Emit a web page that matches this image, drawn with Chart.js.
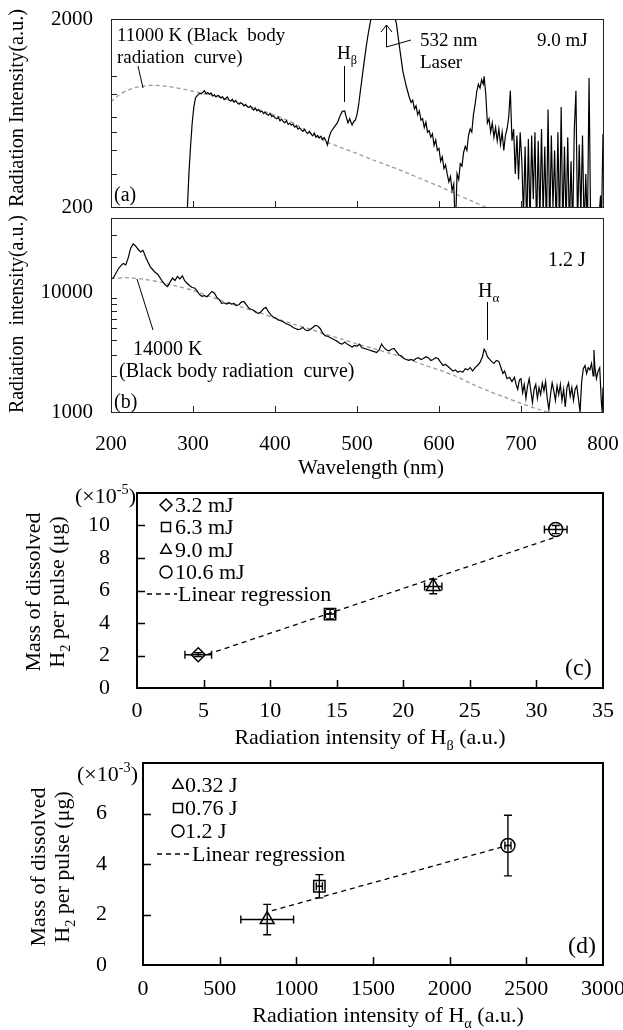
<!DOCTYPE html>
<html>
<head>
<meta charset="utf-8">
<script src="https://cdn.jsdelivr.net/npm/chart.js@4.4.1/dist/chart.umd.min.js"></script>
<style>
html,body{margin:0;padding:0;background:#fff;}
#wrap{position:relative;width:623px;height:1030px;overflow:hidden;background:#fff;}
#wrap canvas{position:absolute;left:0;}
</style>
</head>
<body>
<div id="wrap">
<canvas id="cA" width="623" height="214" style="top:0px;width:623px;height:214px"></canvas>
<canvas id="cB" width="623" height="266" style="top:214px;width:623px;height:266px"></canvas>
<canvas id="cC" width="623" height="270" style="top:480px;width:623px;height:270px"></canvas>
<canvas id="cD" width="623" height="280" style="top:750px;width:623px;height:280px"></canvas>
</div>
<script>
const SERIF = "'Liberation Serif','Times New Roman',serif";

// ---------------- Panel (a): 9.0 mJ spectrum ----------------
const aWave = [290,293,295,297,299,301,303,306,308,310,312,314,316,318,320,322,324,326,328,330,332,334,336,338,340,342,344,346,348,350,352,354,356,358,360,362,364,366,368,370,372,374,376,378,380,382,384,386,388,390,392,394,396,398,400,402,404,406,408,410,412,414,416,418,420,422,424,426,428,430,432,434,436,438,440,442,444,446,448,450,452,454,456,458,460,462,464,466,468,470,472,474,476,478,480,482,485,487,489,491,494,496,498,500,502,504,506,508,510,512,514,516,518,520,530,540,545,548,552,556,560,564,566,568,570,572,574,576,578,580,582,584,586,588,590,592,594,596,598,600,602,604,606,608,610,612,614,616,618,620,622,624,626,628,630,632,634,636,638,640,642,644,646,648,650,652,654,655,657,659,661,663,665,667,669,671,673,675,677,679,681,683,685,687,689,691,693,695,697,699,701,703,705,707,709,711,713,715,717,719,721,723,725,727,729,731,733,735,737,739,741,743,745,747,749,751,753,755,757,759,761,763,765,767,769,771,773,775,777,779,781,783,785,787,790,793,794,795,797,798,800];
const aInt = [100,190,300,420,560,680,760,790,805,800,815,830,800,812,795,808,780,790,770,785,778,760,772,745,758,770,740,732,748,722,738,716,705,718,710,690,702,684,676,690,668,655,672,650,660,640,648,628,638,622,615,630,605,612,596,590,600,575,586,570,562,575,550,558,545,552,532,540,520,528,515,505,518,500,492,505,488,478,494,470,480,466,476,458,468,450,427,470,500,515,530,545,560,590,620,645,648,600,560,590,546,570,580,620,700,820,960,1120,1300,1500,1700,1900,2100,2500,3200,3000,2100,1900,1400,1050,880,760,720,740,665,690,620,650,580,590,530,565,500,510,470,490,425,455,400,410,350,370,320,335,300,272,290,245,265,150,300,280,340,330,390,420,400,480,520,500,620,700,820,900,860,950,900,990,800,560,590,500,560,470,530,450,520,430,500,400,480,520,600,830,450,520,300,480,280,500,350,180,420,150,460,160,480,220,500,150,450,170,520,180,420,150,660,150,480,200,400,150,500,150,680,150,420,160,470,150,350,150,520,830,150,430,180,480,150,300,150,970,150,150,150,150,150,150,230,150,490,150,150];
const aBBWave = [200,210,220,230,240,250,260,270,280,290,300,320,340,360,380,400,420,440,460,480,500,520,540,560,580,600,620,640,660,680];
const aBBInt = [725,790,835,865,880,888,885,875,860,845,825,790,750,705,660,615,565,505,450,415,385,355,330,305,280,258,235,215,197,180];
const aYTicks = [200, 2000];
const aYMinor = [300, 400, 500, 600, 800, 1000];

// ---------------- Panel (b): 1.2 J spectrum ----------------
const bWave = [200,203,206,209,212,215,218,221,224,227,230,233,236,239,242,245,248,251,254,257,260,263,266,269,272,275,278,281,284,287,290,293,296,299,302,305,308,311,314,317,320,323,326,329,332,335,338,341,344,347,350,353,356,359,362,365,368,371,374,377,380,383,386,389,392,395,398,401,404,407,410,413,416,419,422,425,428,431,434,437,440,443,446,449,452,455,458,461,464,467,470,473,476,479,482,485,488,491,494,497,500,503,506,509,512,515,518,521,524,527,530,533,536,539,542,545,548,551,554,557,560,563,566,569,572,575,578,581,584,587,590,593,596,599,602,605,608,611,614,617,620,623,626,629,632,635,638,641,644,647,650,653,655,657,659,661,664,667,670,673,676,678,680,683,686,689,692,694,696,698,700,702,704,706,708,710,712,714,716,718,720,722,724,726,728,730,732,734,736,738,740,742,744,746,748,750,752,754,756,758,760,762,764,766,768,770,772,774,776,778,780,782,784,786,788,789,790,792,794,796,798,799,800];
const bInt = [12900,13300,14500,15800,16800,17500,17000,19500,23500,25500,24500,23000,21800,22500,20000,18000,16400,15500,14700,14200,13200,12300,11600,11200,12200,13200,12600,13600,13000,13800,12500,11900,11400,11000,10900,10300,9600,9300,9400,9200,9700,10200,9900,9100,8700,8100,8200,8000,8200,8000,8100,7800,7900,8300,8400,7900,7400,7200,7100,6800,6700,6900,7300,7500,6900,6500,6200,6100,5900,5800,5700,5500,5400,5300,5100,5000,4900,4950,5100,4850,4800,4900,5100,5300,5250,5000,4600,4350,4300,4200,4100,4000,3900,3750,3700,3850,3700,3600,3500,3600,3550,3700,3450,3400,3350,3300,3250,3200,3150,3300,3700,3450,3300,3250,3350,3400,3200,3000,2950,2800,2750,2700,2750,2700,2800,2850,2750,2800,2900,2850,2700,2750,2850,2800,2600,2450,2500,2400,2300,2200,2250,2150,2200,2150,2300,2250,2350,2200,2350,2450,2600,2900,3350,3200,2900,2800,2650,2550,2700,2650,2300,2100,2200,1900,1950,1800,1950,1700,1550,1850,1900,1450,1700,1300,1650,1900,1500,1200,1550,1700,1300,1600,1400,1750,1500,1800,1300,1050,1400,1750,1500,1250,1650,1400,1700,1250,1550,1100,1600,1750,1350,1600,1250,1550,1650,1300,1000,1800,2300,2450,2100,2350,2250,2550,2000,3300,2400,1900,2200,2350,1200,1000,1600];
const bBBWave = [200,220,240,260,280,300,320,340,360,380,400,420,440,460,480,500,520,540,560,580,600,620,640,660,680,700,720,740];
const bBBInt = [13100,13300,12900,12200,11300,10400,9300,8300,7500,6800,6100,5500,5000,4500,4100,3700,3400,3100,2800,2500,2250,2000,1720,1500,1330,1180,1060,960];
const bYTicks = [1000, 10000];
const bYMinor = [2000,3000,4000,5000,6000,7000,8000,9000,20000,30000];
const wlTicks = [200,300,400,500,600,700,800];

// ---------------- Panel (c): H-beta vs dissolved H2 ----------------
const cLabels = ['3.2 mJ','6.3 mJ','9.0 mJ','10.6 mJ'];
const cX = [4.6, 14.5, 22.25, 31.45];
const cY = [2.05, 4.55, 6.25, 9.75];
const cXErr = [1.0, 0.35, 0.65, 0.85];
const cYErr = [0.12, 0.3, 0.45, 0.25];
const cFitX = [5.3, 31.3];
const cFitY = [2.07, 9.25];
const cXTicks = [0,5,10,15,20,25,30,35];
const cYTicks = [0,2,4,6,8,10];

// ---------------- Panel (d): H-alpha vs dissolved H2 ----------------
const dLabels = ['0.32 J','0.76 J','1.2 J'];
const dX = [810, 1150, 2380];
const dY = [1.8, 3.12, 4.73];
const dXErr = [172, 20, 20];
const dYErr = [0.6, 0.46, 1.2];
const dFitX = [840, 2375];
const dFitY = [2.15, 4.73];
const dXTicks = [0,500,1000,1500,2000,2500,3000];
const dYTicks = [0,2,4,6];

// ---------------- helpers ----------------
function pts(xs, ys) { return xs.map((x, i) => ({ x: x, y: ys[i] })); }
function fitTo(n) {
  return function (s) {
    if (s.isHorizontal()) s.height = n; else s.width = n;
    s.paddingLeft = 0; s.paddingRight = 0; s.paddingTop = 0; s.paddingBottom = 0;
  };
}
function rich(ctx, segs, x, y, size, align, maxW) {
  const f = m => (m ? size * 0.65 : size) + 'px ' + SERIF;
  let w = 0;
  segs.forEach(s => { ctx.font = f(s[1]); w += ctx.measureText(s[0]).width; });
  const k = (maxW && w > maxW) ? maxW / w : 1;
  ctx.save();
  ctx.translate(x, y);
  ctx.scale(k, 1);
  let cx = align === 'center' ? -w / 2 : (align === 'right' ? -w : 0);
  ctx.textAlign = 'left'; ctx.textBaseline = 'alphabetic';
  segs.forEach(s => {
    ctx.font = f(s[1]);
    const dy = s[1] === 1 ? size * 0.25 : (s[1] === 2 ? -size * 0.4 : 0);
    ctx.fillText(s[0], cx, dy);
    cx += ctx.measureText(s[0]).width;
  });
  ctx.restore();
}
function richV(ctx, segs, x, y, size, maxW) {
  ctx.save(); ctx.translate(x, y); ctx.rotate(-Math.PI / 2);
  rich(ctx, segs, 0, 0, size, 'center', maxW); ctx.restore();
}
function poly(ctx, p) {
  ctx.beginPath(); ctx.moveTo(p[0], p[1]);
  for (let i = 2; i < p.length; i += 2) ctx.lineTo(p[i], p[i + 1]);
  ctx.stroke();
}
function frame(chart, xt, yt, len, fw, tw, col) {
  const ctx = chart.ctx, a = chart.chartArea, X = chart.scales.x, Y = chart.scales.y;
  ctx.save();
  ctx.strokeStyle = col; ctx.lineWidth = tw;
  ctx.beginPath();
  xt.forEach(v => { const p = Math.round(X.getPixelForValue(v)) + 0.5; ctx.moveTo(p, a.bottom); ctx.lineTo(p, a.bottom - len); });
  yt.forEach(v => { const p = Math.round(Y.getPixelForValue(v)) + 0.5; ctx.moveTo(a.left, p); ctx.lineTo(a.left + len, p); });
  ctx.stroke();
  ctx.lineWidth = fw;
  const o = fw % 2 ? 0.5 : 0;
  ctx.strokeRect(a.left + o, a.top + o, a.right - a.left, a.bottom - a.top);
  ctx.restore();
}
function marker(ctx, style, x, y, r) {
  ctx.beginPath();
  if (style === 'circle') ctx.arc(x, y, r, 0, Math.PI * 2);
  else if (style === 'rect') ctx.rect(x - r * 0.75, y - r * 0.75, r * 1.5, r * 1.5);
  else if (style === 'rectRot') { ctx.moveTo(x, y - r); ctx.lineTo(x + r, y); ctx.lineTo(x, y + r); ctx.lineTo(x - r, y); ctx.closePath(); }
  else if (style === 'triangle') { ctx.moveTo(x, y - r); ctx.lineTo(x + r * 0.87, y + r * 0.55); ctx.lineTo(x - r * 0.87, y + r * 0.55); ctx.closePath(); }
  ctx.stroke();
}
function errBars(chart, xs, ys, xe, ye) {
  const ctx = chart.ctx, X = chart.scales.x, Y = chart.scales.y;
  ctx.save(); ctx.strokeStyle = '#000'; ctx.lineWidth = 1.4;
  xs.forEach((x, i) => {
    const px = X.getPixelForValue(x), py = Y.getPixelForValue(ys[i]);
    const x1 = X.getPixelForValue(x - xe[i]), x2 = X.getPixelForValue(x + xe[i]);
    const y1 = Y.getPixelForValue(ys[i] - ye[i]), y2 = Y.getPixelForValue(ys[i] + ye[i]);
    ctx.beginPath();
    ctx.moveTo(x1, py); ctx.lineTo(x2, py);
    ctx.moveTo(x1, py - 4); ctx.lineTo(x1, py + 4);
    ctx.moveTo(x2, py - 4); ctx.lineTo(x2, py + 4);
    ctx.moveTo(px, y1); ctx.lineTo(px, y2);
    ctx.moveTo(px - 4, y1); ctx.lineTo(px + 4, y1);
    ctx.moveTo(px - 4, y2); ctx.lineTo(px + 4, y2);
    ctx.stroke();
  });
  ctx.restore();
}
const noGrid = { display: false, drawTicks: false };
const baseOpts = { responsive: false, animation: false, devicePixelRatio: 1, events: [],
  plugins: { legend: { display: false }, tooltip: { enabled: false } } };

Chart.defaults.font.family = SERIF;
Chart.defaults.color = '#000';

// ---------------- Chart (a) ----------------
new Chart(document.getElementById('cA'), {
  type: 'line',
  data: { datasets: [
    { data: pts(aWave, aInt), borderColor: '#000', borderWidth: 1.2, pointRadius: 0, tension: 0 },
    { data: pts(aBBWave, aBBInt), borderColor: '#9a9a9a', borderWidth: 1.3, borderDash: [4, 3], pointRadius: 0, tension: 0.3 }
  ]},
  options: Object.assign({}, baseOpts, {
    layout: { padding: { left: 0, top: 19, right: 20, bottom: 0 } },
    scales: {
      x: { type: 'linear', min: 200, max: 800, grid: noGrid, border: { display: false }, ticks: { display: false }, afterFit: fitTo(7) },
      y: { type: 'logarithmic', min: 200, max: 2000, grid: noGrid, border: { display: false },
           afterBuildTicks: s => { s.ticks = aYTicks.map(v => ({ value: v })); },
           ticks: { font: { size: 21 }, color: '#000', padding: 18, callback: v => String(v) },
           afterFit: fitTo(111) }
    }
  }),
  plugins: [{ id: 'decoA', afterDraw(chart) {
    const ctx = chart.ctx;
    frame(chart, wlTicks.slice(1, -1), aYMinor, 6, 1, 1, '#222');
    ctx.save(); ctx.fillStyle = '#000'; ctx.strokeStyle = '#000'; ctx.lineWidth = 1;
    rich(ctx, [['11000 K (Black  body', 0]], 117, 41, 19, 'left');
    rich(ctx, [['radiation  curve)', 0]], 117, 63, 19, 'left');
    poly(ctx, [138, 66, 143, 88]);
    rich(ctx, [['H', 0], ['\u03b2', 1]], 337, 59, 19, 'left');
    poly(ctx, [344.5, 66, 344.5, 102]);
    poly(ctx, [411, 40, 386.5, 47, 386.5, 25]);
    poly(ctx, [381, 32, 386.5, 25, 392, 32]);
    rich(ctx, [['532 nm', 0]], 420, 46, 19, 'left');
    rich(ctx, [['Laser', 0]], 420, 68, 19, 'left');
    rich(ctx, [['9.0 mJ', 0]], 537, 46, 19, 'left');
    rich(ctx, [['(a)', 0]], 114, 201, 20, 'left');
    richV(ctx, [['Radiation Intensity(a.u.)', 0]], 23, 108, 21, 198);
    ctx.restore();
  }}]
});

// ---------------- Chart (b) ----------------
const TB = 214;
new Chart(document.getElementById('cB'), {
  type: 'line',
  data: { datasets: [
    { data: pts(bWave, bInt), borderColor: '#000', borderWidth: 1.2, pointRadius: 0, tension: 0 },
    { data: pts(bBBWave, bBBInt), borderColor: '#9a9a9a', borderWidth: 1.3, borderDash: [4, 3], pointRadius: 0, tension: 0.3 }
  ]},
  options: Object.assign({}, baseOpts, {
    layout: { padding: { left: 0, top: 218 - TB, right: 20, bottom: 0 } },
    scales: {
      x: { type: 'linear', min: 200, max: 800, grid: noGrid, border: { display: false },
           afterBuildTicks: s => { s.ticks = wlTicks.map(v => ({ value: v })); },
           ticks: { font: { size: 21 }, color: '#000', padding: 20, maxRotation: 0, autoSkip: false, callback: v => String(v) },
           afterFit: fitTo(266 - (412 - TB)) },
      y: { type: 'logarithmic', min: 1000, max: 42000, grid: noGrid, border: { display: false },
           afterBuildTicks: s => { s.ticks = bYTicks.map(v => ({ value: v })); },
           ticks: { font: { size: 21 }, color: '#000', padding: 18, callback: v => String(v) },
           afterFit: fitTo(111) }
    }
  }),
  plugins: [{ id: 'decoB', afterDraw(chart) {
    const ctx = chart.ctx;
    frame(chart, wlTicks.slice(1, -1), bYMinor, 6, 1, 1, '#222');
    ctx.save(); ctx.fillStyle = '#000'; ctx.strokeStyle = '#000'; ctx.lineWidth = 1;
    rich(ctx, [['1.2 J', 0]], 548, 266 - TB, 20, 'left');
    rich(ctx, [['H', 0], ['\u03b1', 1]], 478, 297 - TB, 20, 'left');
    poly(ctx, [487.5, 302 - TB, 487.5, 340 - TB]);
    rich(ctx, [['14000 K', 0]], 133, 355 - TB, 20, 'left');
    rich(ctx, [['(Black body radiation  curve)', 0]], 119, 377 - TB, 20, 'left');
    poly(ctx, [137, 279 - TB, 153, 330 - TB]);
    rich(ctx, [['(b)', 0]], 114, 408 - TB, 20, 'left');
    richV(ctx, [['Radiation  intensity(a.u.)', 0]], 23, 314 - TB, 21, 198);
    rich(ctx, [['Wavelength (nm)', 0]], 371, 474 - TB, 21, 'center');
    ctx.restore();
  }}]
});

// ---------------- Chart (c) ----------------
const cStyle = ['rectRot', 'rect', 'triangle', 'circle'];
const cRad = [7, 8, 8, 7];
const TC = 480;
const cSets = [{ data: pts(cFitX, cFitY), showLine: true, borderColor: '#000', borderWidth: 1.3, borderDash: [5, 4], pointRadius: 0 }];
cX.forEach((x, i) => cSets.push({ label: cLabels[i], data: [{ x: x, y: cY[i] }], pointStyle: cStyle[i], pointRadius: cRad[i],
  pointBorderColor: '#000', pointBackgroundColor: 'rgba(0,0,0,0)', pointBorderWidth: 1.5 }));
new Chart(document.getElementById('cC'), {
  type: 'scatter',
  data: { datasets: cSets },
  options: Object.assign({}, baseOpts, {
    layout: { padding: { left: 0, top: 493 - TC, right: 20, bottom: 0 } },
    scales: {
      x: { type: 'linear', min: 0, max: 35, grid: noGrid, border: { display: false },
           afterBuildTicks: s => { s.ticks = cXTicks.map(v => ({ value: v })); },
           ticks: { font: { size: 22 }, color: '#000', padding: 10, maxRotation: 0, autoSkip: false, callback: v => String(v) },
           afterFit: fitTo(270 - (688 - TC)) },
      y: { type: 'linear', min: 0, max: 12, grid: noGrid, border: { display: false },
           afterBuildTicks: s => { s.ticks = cYTicks.map(v => ({ value: v })); },
           ticks: { font: { size: 22 }, color: '#000', padding: 27, callback: v => String(v) },
           afterFit: fitTo(137) }
    }
  }),
  plugins: [{ id: 'decoC', afterDraw(chart) {
    const ctx = chart.ctx;
    errBars(chart, cX, cY, cXErr, cYErr);
    frame(chart, cXTicks.slice(1, -1), cYTicks.slice(1), 8, 2, 1.5, '#000');
    ctx.save(); ctx.fillStyle = '#000'; ctx.strokeStyle = '#000';
    const rows = [505, 527, 550, 572, 594];
    ctx.lineWidth = 1.5;
    cLabels.forEach((t, i) => {
      marker(ctx, cStyle[i], 166, rows[i] - TC, 6);
      rich(ctx, [[t, 0]], 175, rows[i] - TC + 7, 22, 'left');
    });
    ctx.lineWidth = 1.3; ctx.setLineDash([5, 4]);
    poly(ctx, [147, rows[4] - TC, 177, rows[4] - TC]);
    ctx.setLineDash([]);
    rich(ctx, [['Linear regression', 0]], 178, rows[4] - TC + 7, 22, 'left');
    rich(ctx, [['(\u00d710', 0], ['-5', 2], [')', 0]], 75, 503 - TC, 22, 'left');
    rich(ctx, [['(c)', 0]], 565, 675 - TC, 24, 'left');
    richV(ctx, [['Mass of dissolved', 0]], 40, 592 - TC, 22);
    richV(ctx, [['H', 0], ['2', 1], [' per pulse (\u03bcg)', 0]], 64, 592 - TC, 22);
    rich(ctx, [['Radiation intensity of H', 0], ['\u03b2', 1], [' (a.u.)', 0]], 370, 744 - TC, 22, 'center');
    ctx.restore();
  }}]
});

// ---------------- Chart (d) ----------------
const dStyle = ['triangle', 'rect', 'circle'];
const dRad = [8, 8, 7];
const TD = 750;
const dSets = [{ data: pts(dFitX, dFitY), showLine: true, borderColor: '#000', borderWidth: 1.3, borderDash: [5, 4], pointRadius: 0 }];
dX.forEach((x, i) => dSets.push({ label: dLabels[i], data: [{ x: x, y: dY[i] }], pointStyle: dStyle[i], pointRadius: dRad[i],
  pointBorderColor: '#000', pointBackgroundColor: 'rgba(0,0,0,0)', pointBorderWidth: 1.5 }));
new Chart(document.getElementById('cD'), {
  type: 'scatter',
  data: { datasets: dSets },
  options: Object.assign({}, baseOpts, {
    layout: { padding: { left: 0, top: 763 - TD, right: 20, bottom: 0 } },
    scales: {
      x: { type: 'linear', min: 0, max: 3000, grid: noGrid, border: { display: false },
           afterBuildTicks: s => { s.ticks = dXTicks.map(v => ({ value: v })); },
           ticks: { font: { size: 22 }, color: '#000', padding: 11, maxRotation: 0, autoSkip: false, callback: v => String(v) },
           afterFit: fitTo(280 - (965 - TD)) },
      y: { type: 'linear', min: 0, max: 8, grid: noGrid, border: { display: false },
           afterBuildTicks: s => { s.ticks = dYTicks.map(v => ({ value: v })); },
           ticks: { font: { size: 22 }, color: '#000', padding: 36, callback: v => String(v) },
           afterFit: fitTo(143) }
    }
  }),
  plugins: [{ id: 'decoD', afterDraw(chart) {
    const ctx = chart.ctx;
    errBars(chart, dX, dY, dXErr, dYErr);
    frame(chart, dXTicks.slice(1, -1), dYTicks.slice(1), 8, 2, 1.5, '#000');
    ctx.save(); ctx.fillStyle = '#000'; ctx.strokeStyle = '#000';
    const rows = [785, 808, 831, 854];
    ctx.lineWidth = 1.5;
    dLabels.forEach((t, i) => {
      marker(ctx, dStyle[i], 178, rows[i] - TD, 6);
      rich(ctx, [[t, 0]], 185, rows[i] - TD + 7, 22, 'left');
    });
    ctx.lineWidth = 1.3; ctx.setLineDash([5, 4]);
    poly(ctx, [157, rows[3] - TD, 189, rows[3] - TD]);
    ctx.setLineDash([]);
    rich(ctx, [['Linear regression', 0]], 192, rows[3] - TD + 7, 22, 'left');
    rich(ctx, [['(\u00d710', 0], ['-3', 2], [')', 0]], 77, 781 - TD, 22, 'left');
    rich(ctx, [['(d)', 0]], 568, 953 - TD, 24, 'left');
    richV(ctx, [['Mass of dissolved', 0]], 45, 867 - TD, 22);
    richV(ctx, [['H', 0], ['2', 1], [' per pulse (\u03bcg)', 0]], 69, 867 - TD, 22);
    rich(ctx, [['Radiation intensity of H', 0], ['\u03b1', 1], [' (a.u.)', 0]], 388, 1022 - TD, 22, 'center');
    ctx.restore();
  }}]
});
</script>
</body>
</html>
